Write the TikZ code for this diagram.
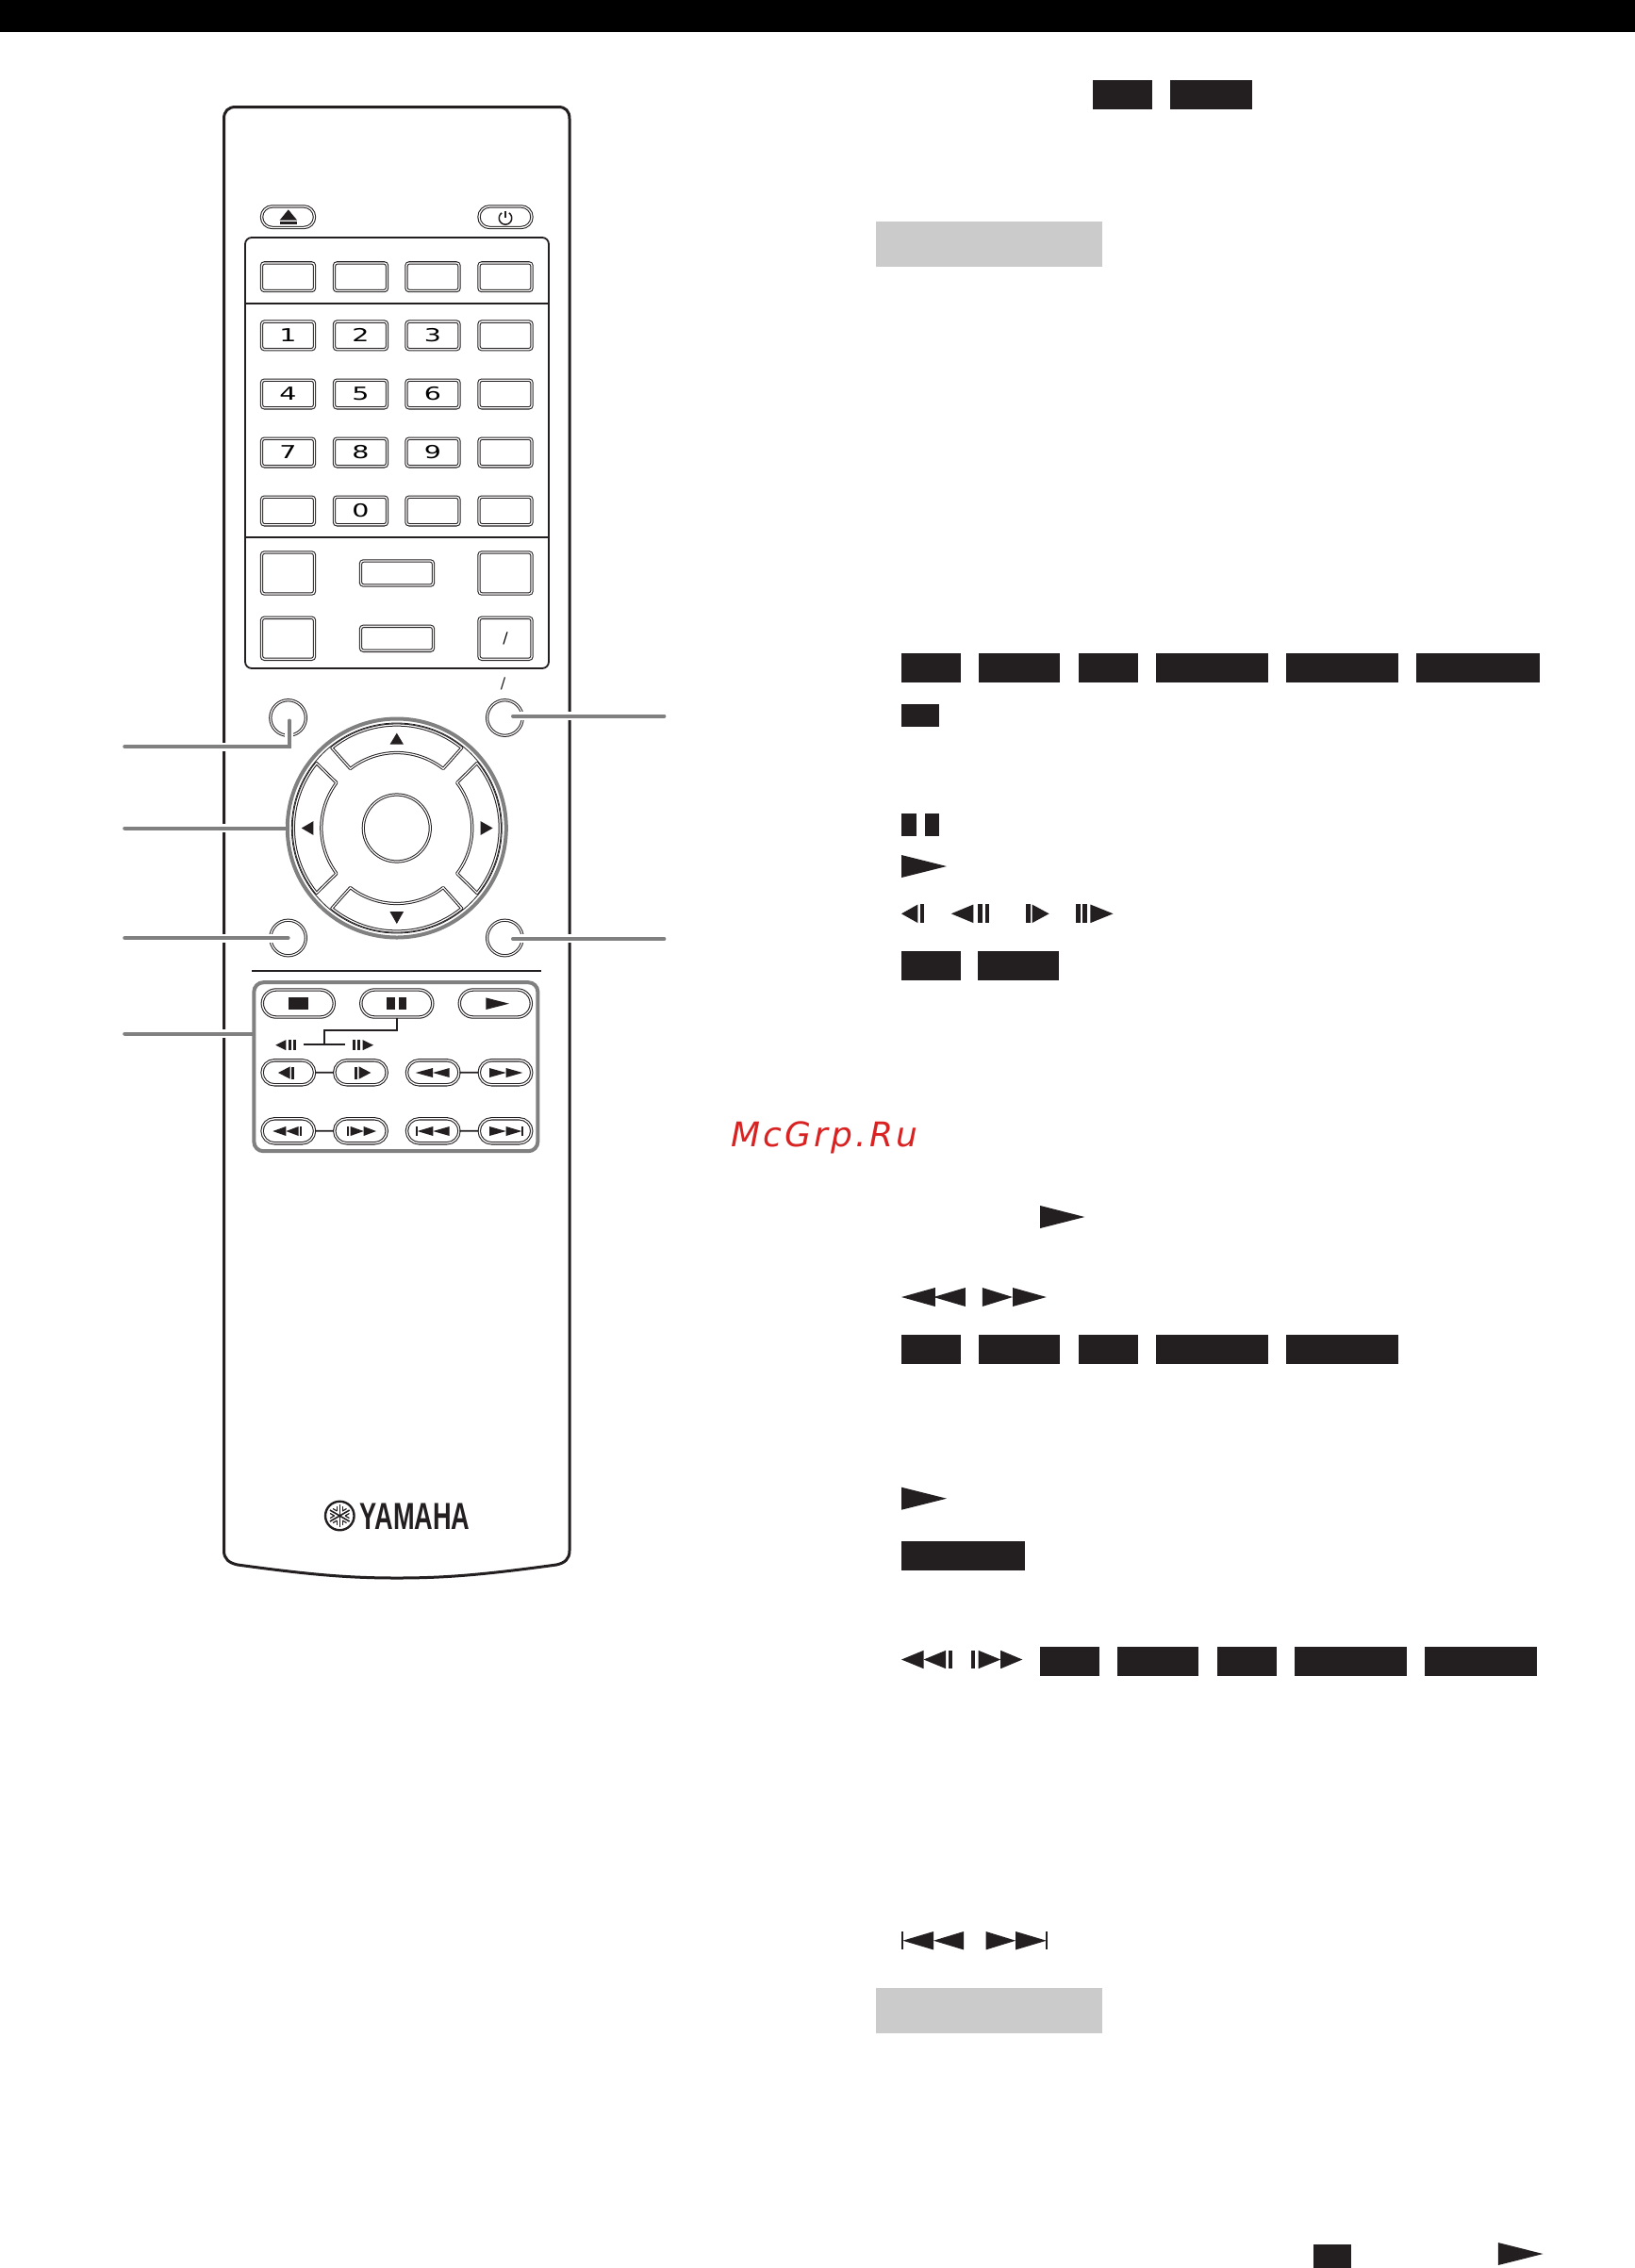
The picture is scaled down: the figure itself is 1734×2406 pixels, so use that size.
\documentclass[tikz,border=0pt]{standalone}
\usepackage{fontspec}
\setsansfont{DejaVu Sans}
\newfontfamily\logofont{Liberation Sans}
\newfontfamily\stampfont[LetterSpace=9]{DejaVu Sans}
\usetikzlibrary{shapes.misc}
\definecolor{ink}{HTML}{231F20}
\definecolor{leadgrey}{HTML}{808080}
\definecolor{bargrey}{HTML}{CBCBCB}
\definecolor{stampred}{HTML}{D92323}
\tikzset{
keybtn/.style={draw=ink, double=white, double distance=1.3pt, line width=1.05pt,
	inner sep=0, rounded corners=3pt, minimum width=56pt, minimum height=29.6pt,
	font=\sffamily\fontsize{19}{19}\selectfont},
pillbtn/.style={draw=ink, double=white, double distance=1.3pt, line width=1.05pt,
	rounded rectangle, inner sep=0, minimum width=55.5pt, minimum height=26pt},
roundbtn/.style={draw=ink, double=white, double distance=1.2pt, line width=1pt,
	circle, inner sep=0, minimum size=37.6pt},
glyph/.style={fill=ink},
wire/.style={draw=ink, line width=1.7pt},
leader/.style={draw=leadgrey, line width=4pt, line cap=round,
	preaction={draw=white, line width=9pt, line cap=butt}}
}
\newcommand{\widedigit}[1]{\scalebox{1.5}[1]{#1}}

\begin{document}
\begin{tikzpicture}[x=1pt, y=-1pt]
	\useasboundingbox (0,0) rectangle (1734,2406);
	\fill[black] (0,0) rectangle (1734,34);
	% remote body
	\draw[ink, line width=3pt] (237.5,1645) -- (237.5,126)
		.. controls (237.5,118) and (242,113.5) .. (250,113.5) -- (592,113.5)
		.. controls (600,113.5) and (604,118) .. (604,126) -- (604,1645)
		.. controls (604,1654) and (599,1658) .. (590,1660)
		.. controls (510,1671) and (470,1674) .. (421,1674)
		.. controls (372,1674) and (332,1671) .. (252,1660)
		.. controls (243,1658) and (237.5,1654) .. (237.5,1645) -- cycle;
	\node[pillbtn, minimum width=56pt, minimum height=22.5pt] (eject) at (305.5,230.2) {};
	\node[pillbtn, minimum width=56pt, minimum height=22.5pt] (power) at (536,230.2) {};
	\fill[glyph] (296.7,233.5) -- (305.8,222.4) -- (315,233.5) -- cycle;
	\fill[glyph] (296.7,235) rectangle (315,237.6);
	\draw[ink, line width=1.5pt] plot[domain=-55:235, samples=30] ({536+6.7*cos(\x)},{231.4+6.7*sin(\x)});
	\draw[ink, line width=1.5pt] (536,223.7) -- (536,231.4);
	% key panel
	\draw[ink, line width=1.8pt, rounded corners=7pt] (260,252) rectangle (582,709);
	\draw[ink, line width=1.8pt] (260,321.6) -- (582,321.6) (260,569.8) -- (582,569.8);
	\foreach \lab/\xx/\yy in {1/305.5/355.9, 2/382.5/355.9, 3/459/355.9,
		4/305.5/418, 5/382.5/418, 6/459/418,
		7/305.5/480, 8/382.5/480, 9/459/480, 0/382.5/542}
		\node[keybtn] (num\lab) at (\xx,\yy) {\widedigit{\lab}};
	\foreach \nm/\xx/\yy in {sa/305.5/293.7, sb/382.5/293.7, sc/459/293.7, sd/536/293.7,
		fa/536/355.9, fb/536/418, fc/536/480, la/305.5/542, lb/459/542, lc/536/542}
		\node[keybtn] (key\nm) at (\xx,\yy) {};
	\node[keybtn, minimum height=44pt] (bigtl) at (305.5,608) {};
	\node[keybtn, minimum height=44pt] (bigtr) at (536,608) {};
	\node[keybtn, minimum height=44pt] (bigbl) at (305.5,677.3) {};
	\node[keybtn, minimum height=44pt, font=\sffamily\fontsize{16}{16}\selectfont] (bigbr) at (536,677.3) {/};
	\node[keybtn, minimum width=77pt, minimum height=26pt] (midt) at (421,608) {};
	\node[keybtn, minimum width=77pt, minimum height=26pt] (midb) at (421,677.3) {};
	\node[inner sep=0, text=ink, font=\sffamily\fontsize{16}{16}\selectfont] (slashtop) at (533.5,725.5) {/};
	% navigation
	\node[roundbtn] (circtl) at (305.6,761.5) {};
	\node[roundbtn] (circtr) at (535.4,761.5) {};
	\node[roundbtn] (circbl) at (305.6,995) {};
	\node[roundbtn] (circbr) at (535.4,995) {};
	\node[circle, draw=leadgrey, line width=4pt, inner sep=0, minimum size=232pt] (ring) at (420.8,878.5) {};
	\node[circle, draw=ink, line width=.8pt, inner sep=0, minimum size=223pt] (rim) at (420.8,878.5) {};
	\node[roundbtn, minimum size=71pt] (enter) at (420.8,878.5) {};
	\foreach \aa/\ab/\ia/\ib in {51/129/52/128, 141/219/143/217, 231/309/232/308, 321/399/323/397}
		\draw[draw=ink, double=white, double distance=1.2pt, line width=1pt, line join=round]
			plot[domain=\aa:\ab, samples=24] ([shift={(\x:109.5)}]ring.center)
			-- plot[domain=\ib:\ia, samples=24] ([shift={(\x:80)}]ring.center) -- cycle;
	\fill[glyph] (413.5,789.7) -- (420.8,777.6) -- (428,789.7) -- cycle;
	\fill[glyph] (413.5,967.2) -- (420.8,980) -- (428,967.2) -- cycle;
	% transport keys
	\draw[ink, line width=2pt] (267,1030) -- (574,1030);
	\node[rectangle, rounded corners=10pt, draw=leadgrey, line width=4pt, inner sep=0,
		minimum width=301pt, minimum height=179pt] (tray) at (419.85,1131.7) {};
	\node[pillbtn, minimum width=76pt, minimum height=29pt] (stopkey) at (316.3,1064.5) {};
	\node[pillbtn, minimum width=76pt, minimum height=29pt] (pausekey) at (420.8,1064.5) {};
	\node[pillbtn, minimum width=76pt, minimum height=29pt] (playkey) at (525.3,1064.5) {};
	\foreach \nm/\yy in {a/1137.8, b/1199.8} {
		\node[pillbtn] (pa\nm) at (305.8,\yy) {};
		\node[pillbtn] (pb\nm) at (382.5,\yy) {};
		\node[pillbtn] (pc\nm) at (459.2,\yy) {};
		\node[pillbtn] (pd\nm) at (536,\yy) {};
		\draw[wire] (pa\nm) -- (pb\nm);
		\draw[wire] (pc\nm) -- (pd\nm);
	}
	\coordinate (stepjoin) at (344,1108.3);
	\coordinate (stepl) at (322,1108.3);
	\coordinate (stepr) at (366,1108.3);
	\draw[wire] (pausekey.south) -- ++(0,13.3) -| (stepjoin);
	\draw[wire] (stepl) -- (stepr);
	% bars and solid boxes
	\foreach \xa/\xb/\ya/\yb in {306/327/1058.3/1070.7, 410/418.7/1058.3/1070.7, 422.7/431/1058.3/1070.7,
		305.7/308.7/1103/1114, 311.3/314.3/1103/1114, 373.7/376.7/1103/1114, 379.3/382.3/1103/1114,
		309.3/312.3/1131.5/1144.5, 376/379/1131.5/1144.5,
		317.7/320/1195/1205, 367.7/370/1195/1205, 440.7/442.7/1195/1205, 553.3/554.8/1195/1205,
		1159/1222/85/116, 1241/1328/85/116,
		956/1019.2/693/724, 1038/1124/693/724, 1143.8/1207/693/724, 1225.9/1344.8/693/724, 1364/1483/693/724, 1502/1633/693/724,
		956/996/747/770.7, 956/972/863/887, 981/996/863/887,
		975.8/980/959.3/979, 1036.6/1042.3/959.3/979, 1044.6/1049.3/959.3/979, 1088/1092.7/959.3/979, 1141/1146/959.3/979, 1148/1153/959.3/979,
		956/1019.2/1009/1040, 1037/1123/1009/1040,
		956/1019.2/1416/1447, 1038/1124/1416/1447, 1143.8/1207/1416/1447, 1225.9/1344.8/1416/1447, 1364/1483/1416/1447,
		956/1087/1635/1666,
		1006/1010.2/1751/1770, 1030/1033.8/1751/1770,
		1103.2/1166/1747/1778, 1184.8/1271.2/1747/1778, 1291/1353.8/1747/1778, 1373/1492/1747/1778, 1511/1629.8/1747/1778,
		956/957.8/2049/2068.3, 1109.3/1111/2049/2068.3,
		1393/1433/2381/2406}
		\fill[glyph] (\xa,\ya) rectangle (\xb,\yb);
	% triangles
	\foreach \base/\tip/\mid/\half in {332.4/319.8/878.5/7.4, 509.6/522.6/878.5/7.4,
		515.3/540/1064.7/6.3, 303.3/292.3/1108.7/5.5, 384.7/396/1108.7/5.5,
		307.7/295/1138/6.6, 380.7/393.3/1138/6.6,
		459/440.7/1138/5, 476.7/459/1138/5, 519/536.7/1138/5, 536.7/554.3/1138/5,
		303.3/289.3/1200/5, 316.7/303.3/1200/5, 371.7/385.7/1200/5, 385.7/399/1200/5,
		459.3/442.7/1200/5, 476.7/459.3/1200/5, 519/536.7/1200/5, 536.7/553.3/1200/5,
		956/1004/919/12, 973.4/956/969.3/9.8, 1032.4/1008.8/969.3/9.8, 1094.6/1112.6/969.3/9.8, 1156.4/1180.5/969.3/9.8,
		1103.2/1150.4/1291/12, 991.8/956/1376/10, 1023.9/990/1376/10, 1041.8/1074/1376/10, 1074/1109.8/1376/10,
		956/1004/1589.7/12, 979.6/956/1760.5/9.7, 1003.1/979.6/1760.5/9.7, 1037.6/1061.2/1760.5/9.7, 1061.2/1084.3/1760.5/9.7,
		990/957.4/2058.7/9.7, 1022/990/2058.7/9.7, 1045.6/1077.2/2058.7/9.7, 1077.2/1109.8/2058.7/9.7,
		1588.8/1636.5/2391/12}
		\fill[glyph] (\base,{\mid-\half}) -- (\tip,\mid) -- (\base,{\mid+\half}) -- cycle;
	\fill[bargrey] (929,235) rectangle (1169,283);
	\fill[bargrey] (929,2109) rectangle (1169,2157);
	% logo
	\node[circle, draw=ink, line width=2.4pt, inner sep=0, minimum size=30.5pt] (emblem) at (360.3,1608) {};
	\foreach \ang in {0,60,120} {
		\draw[ink, line width=1.6pt, rotate around={\ang:(emblem.center)}] (360.3,1596) -- (360.3,1620);
		\draw[ink, line width=1.2pt, rotate around={\ang:(emblem.center)}] (357.4,1598) -- (357.4,1603) (363.2,1613) -- (363.2,1618);
		\draw[ink, line width=1.2pt, rotate around={\ang:(emblem.center)}] (363.2,1598) -- (363.2,1603) (357.4,1613) -- (357.4,1618);
	}
	\node[inner sep=0, anchor=base west, text=ink, font=\logofont\bfseries\fontsize{40}{40}\selectfont] (brand) at (381.5,1622.7) {\scalebox{0.68}[1]{YAMAHA}};
	\node[inner sep=0, anchor=base west, text=stampred, font=\stampfont\itshape\fontsize{36}{36}\selectfont] (stamp) at (775,1216.7) {McGrp.Ru};
	% leader lines
	\coordinate (lefta) at (132.2,792);
	\coordinate (tipa) at (306.8,764.5);
	\coordinate (leftb) at (132.2,878.5);
	\coordinate (leftc) at (132.2,995);
	\coordinate (leftd) at (132.2,1096.5);
	\coordinate (righta) at (704.4,759.7);
	\coordinate (tipb) at (544,759.7);
	\coordinate (rightb) at (704.4,995.9);
	\coordinate (tipc) at (544,995.9);
	\draw[leader] (lefta) -| (tipa);
	\draw[leader] (leftb) -- (ring.west);
	\draw[leader] (leftc) -- (circbl.center);
	\draw[leader] (leftd) -- (leftd -| tray.west);
	\draw[leader] (tipb) -- (righta);
	\draw[leader] (tipc) -- (rightb);
\end{tikzpicture}
\end{document}
